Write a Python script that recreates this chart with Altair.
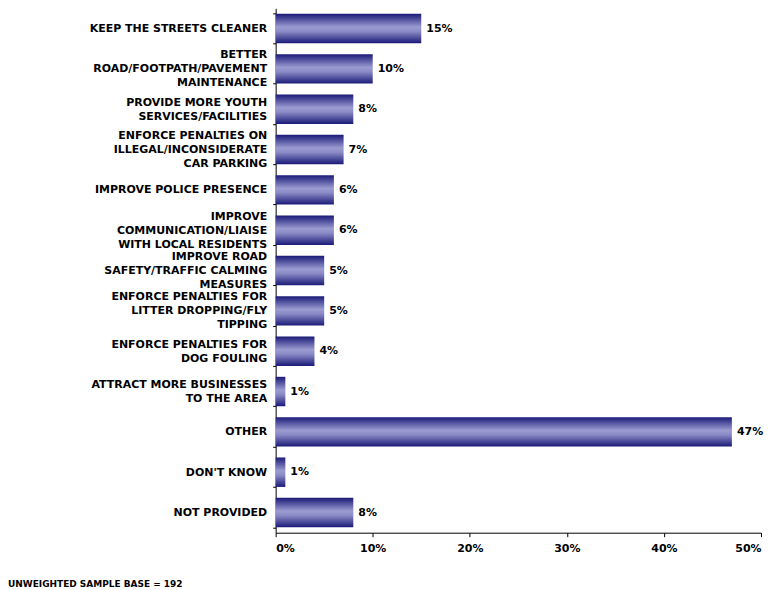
import altair as alt
import pandas as pd

categories = [
    "KEEP THE STREETS CLEANER",
    "BETTER|ROAD/FOOTPATH/PAVEMENT|MAINTENANCE",
    "PROVIDE MORE YOUTH|SERVICES/FACILITIES",
    "ENFORCE PENALTIES ON|ILLEGAL/INCONSIDERATE|CAR PARKING",
    "IMPROVE POLICE PRESENCE",
    "IMPROVE|COMMUNICATION/LIAISE|WITH LOCAL RESIDENTS",
    "IMPROVE ROAD|SAFETY/TRAFFIC CALMING|MEASURES",
    "ENFORCE PENALTIES FOR|LITTER DROPPING/FLY|TIPPING",
    "ENFORCE PENALTIES FOR|DOG FOULING",
    "ATTRACT MORE BUSINESSES|TO THE AREA",
    "OTHER",
    "DON'T KNOW",
    "NOT PROVIDED",
]
values = [15, 10, 8, 7, 6, 6, 5, 5, 4, 1, 47, 1, 8]
x_ticks = [0, 10, 20, 30, 40, 50]

df = pd.DataFrame({"cat": categories, "val": values})
df["lab"] = df["val"].astype(str) + "%"

FONT = "DejaVu Sans"

grad = alt.LinearGradient(
    gradient="linear", x1=0, y1=0, x2=0, y2=1,
    stops=[
        alt.GradientStop(offset=0, color="#1a1a78"),
        alt.GradientStop(offset=0.45, color="#9c9cd2"),
        alt.GradientStop(offset=0.6, color="#8a8ac6"),
        alt.GradientStop(offset=1, color="#1a1a78"),
    ],
)

label_offset = {
    "condition": [
        {"test": "length(split(datum.label, '|')) == 3", "value": -14},
        {"test": "length(split(datum.label, '|')) == 2", "value": -7},
    ],
    "value": 0,
}

y_enc = alt.Y(
    "cat:N", sort=categories, title=None,
    scale=alt.Scale(paddingInner=0.27, paddingOuter=0.135),
    axis=alt.Axis(
        labelExpr="split(datum.label, '|')",
        labelFont=FONT, labelFontWeight="bold", labelFontSize=11,
        labelColor="black", labelLineHeight=14, labelPadding=6,
        labelBaseline="middle", labelOffset=label_offset,
        tickBand="extent", tickSize=3, tickColor="black",
        domainColor="black", minExtent=268, maxExtent=268,
        labelLimit=300,
    ),
)
x_enc = alt.X(
    "val:Q", title=None,
    scale=alt.Scale(domain=[0, 50], nice=False),
    axis=alt.Axis(
        values=x_ticks, labelExpr="datum.value + '%'",
        labelFont=FONT, labelFontWeight="bold", labelFontSize=11,
        labelColor="black", labelPadding=6, tickSize=4,
        tickColor="black", domainColor="black", grid=False,
    ),
)

bars = alt.Chart(df).mark_bar(color=grad).encode(y=y_enc, x=x_enc)
text = alt.Chart(df).mark_text(
    align="left", dx=5, font=FONT, fontWeight="bold", fontSize=11, color="black"
).encode(y=alt.Y("cat:N", sort=categories), x="val:Q", text="lab:N")

chart = (
    alt.layer(bars, text)
    .properties(
        width=486, height=525,
        view=alt.ViewBackground(strokeWidth=0, stroke="transparent"),
        title=alt.TitleParams(
            "UNWEIGHTED SAMPLE BASE = 192", orient="bottom", anchor="start",
            frame="bounds", font=FONT, fontSize=9, fontWeight="bold",
            color="black", offset=26,
        ),
        padding={"left": 0, "top": -6, "right": 5, "bottom": 0},
    )
    .configure_view(strokeWidth=0, stroke="transparent")
    .configure(background="white")
)

chart.save("out.html", embed_options={"renderer": "svg", "actions": False})
